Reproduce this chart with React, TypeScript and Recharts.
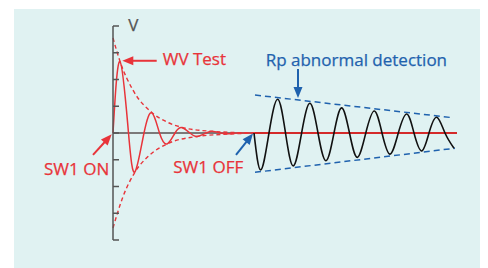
import { LineChart, Line, XAxis, YAxis, ReferenceLine, ReferenceDot } from "recharts";

const RED = "#e8343a";
const BLUE = "#1f62ae";
const GRAY = "#555555";

// x: time offset from SW1 ON, y: voltage in axis divisions
const redSignal = [
  { x: 0, y: 0 },
  { x: 7, y: 2.67 },
  { x: 15.5, y: 0 },
  { x: 22, y: -1.45 },
  { x: 31, y: 0 },
  { x: 39, y: 0.75 },
  { x: 46.5, y: 0 },
  { x: 54, y: -0.41 },
  { x: 62, y: 0 },
  { x: 69, y: 0.2 },
  { x: 77, y: 0 },
  { x: 84, y: -0.13 },
  { x: 93, y: 0 },
  { x: 100, y: 0.06 },
  { x: 108, y: 0 },
  { x: 116, y: -0.03 },
  { x: 124, y: 0 },
  { x: 142, y: 0 },
];

const redUpper = [
  { x: 0, y: 3.55 },
  { x: 7, y: 2.68 },
  { x: 20, y: 1.6 },
  { x: 39, y: 0.76 },
  { x: 54, y: 0.41 },
  { x: 69, y: 0.21 },
  { x: 100, y: 0.06 },
  { x: 142, y: 0 },
];

const redLower = [
  { x: 0, y: -3.55 },
  { x: 10, y: -2.38 },
  { x: 22, y: -1.46 },
  { x: 35, y: -0.88 },
  { x: 54, y: -0.41 },
  { x: 84, y: -0.13 },
  { x: 116, y: -0.04 },
  { x: 142, y: 0 },
];

const baseLeft = [
  { x: 0, y: 0 },
  { x: 142, y: 0 },
];

const baseRight = [
  { x: 142, y: 0 },
  { x: 344, y: 0 },
];

const blackSignal = [
  { x: 141, y: 0 },
  { x: 147.7, y: -1.38 },
  { x: 156, y: 0 },
  { x: 164.7, y: 1.26 },
  { x: 172.5, y: 0 },
  { x: 180.3, y: -1.23 },
  { x: 188.6, y: 0 },
  { x: 197, y: 1.11 },
  { x: 205, y: 0 },
  { x: 213, y: -1.04 },
  { x: 221, y: 0 },
  { x: 228.7, y: 0.94 },
  { x: 236.5, y: 0 },
  { x: 244.3, y: -0.91 },
  { x: 252.8, y: 0 },
  { x: 261.3, y: 0.82 },
  { x: 269, y: 0 },
  { x: 277, y: -0.79 },
  { x: 285.3, y: 0 },
  { x: 293.7, y: 0.71 },
  { x: 301, y: 0 },
  { x: 308.7, y: -0.67 },
  { x: 316, y: 0 },
  { x: 323.7, y: 0.59 },
  { x: 332, y: 0 },
  { x: 341, y: -0.57 },
];

const blueUpper = [
  { x: 142, y: 1.42 },
  { x: 340, y: 0.57 },
];

const blueLower = [
  { x: 142, y: -1.47 },
  { x: 342, y: -0.57 },
];

const yTicks = [-4, -3, -2, -1, 0, 1, 2, 3, 4];

const labels = [
  { text: "V", x: 15.3, y: 3.82, color: GRAY },
  { text: "WV Test", x: 49.7, y: 2.54, color: RED },
  { text: "SW1 ON", x: -69, y: -1.57, color: RED },
  { text: "SW1 OFF", x: 60.3, y: -1.51, color: RED },
  { text: "Rp abnormal detection", x: 152.7, y: 2.5, color: BLUE },
];

const arrows = [
  { from: { x: 43.7, y: 2.7 }, to: { x: 9.3, y: 2.7 }, color: RED },
  { from: { x: -20, y: -0.82 }, to: { x: -1.3, y: -0.05 }, color: RED },
  { from: { x: 123, y: -0.82 }, to: { x: 140, y: -0.02 }, color: BLUE },
  { from: { x: 185, y: 2.39 }, to: { x: 185, y: 1.31 }, color: BLUE },
];

function arrowShape(color: string) {
  return (p: any) => {
    const { x1, y1, x2, y2 } = p;
    const a = Math.atan2(y2 - y1, x2 - x1);
    const len = 11;
    const w = 4.5;
    const bx = x2 - len * Math.cos(a);
    const by = y2 - len * Math.sin(a);
    const pts = [
      [x2, y2],
      [bx + w * Math.sin(a), by - w * Math.cos(a)],
      [bx - w * Math.sin(a), by + w * Math.cos(a)],
    ]
      .map((q) => q.join(","))
      .join(" ");
    return (
      <g>
        <line x1={x1} y1={y1} x2={bx + Math.cos(a)} y2={by + Math.sin(a)} stroke={color} strokeWidth={2} />
        <polygon points={pts} fill={color} />
      </g>
    );
  };
}

function textShape(text: string, color: string) {
  return (p: any) => (
    <text
      x={p.cx}
      y={p.cy}
      fill={color}
      fontSize={17}
      fontFamily="'Open Sans', sans-serif"
      stroke={color}
      strokeWidth={0.25}
    >
      {text}
    </text>
  );
}

export default function App() {
  return (
    <div style={{ position: "relative", width: 480, height: 260 }}>
      <div
        style={{
          position: "absolute",
          left: 6,
          top: 1,
          width: 474,
          height: 259,
          background: "#e0f2f2",
        }}
      />
      <div style={{ position: "absolute", left: 0, top: 0 }}>
        <LineChart width={480} height={260} margin={{ top: 18, right: 31, bottom: 28, left: 105 }}>
          <XAxis type="number" dataKey="x" domain={[0, 344]} hide />
          <YAxis
            type="number"
            domain={[-4, 4]}
            ticks={yTicks}
            interval={0}
            mirror
            tick={() => <g />}
            tickSize={6}
            stroke={GRAY}
            axisLine={{ stroke: GRAY, strokeWidth: 1.5 }}
            tickLine={{ stroke: GRAY, strokeWidth: 1.5 }}
          />
          <Line data={baseLeft} dataKey="y" stroke="#5a5050" strokeWidth={1.5} dot={false} activeDot={false} isAnimationActive={false} />
          <Line data={redUpper} dataKey="y" type="monotone" stroke={RED} strokeWidth={1.4} strokeDasharray="4 3" dot={false} activeDot={false} isAnimationActive={false} />
          <Line data={redLower} dataKey="y" type="monotone" stroke={RED} strokeWidth={1.4} strokeDasharray="4 3" dot={false} activeDot={false} isAnimationActive={false} />
          <Line data={redSignal} dataKey="y" type="natural" stroke={RED} strokeWidth={1.5} dot={false} activeDot={false} isAnimationActive={false} />
          <Line data={baseRight} dataKey="y" stroke="#d42a2a" strokeWidth={2} dot={false} activeDot={false} isAnimationActive={false} />
          <Line data={blueUpper} dataKey="y" stroke={BLUE} strokeWidth={1.5} strokeDasharray="6 4" dot={false} activeDot={false} isAnimationActive={false} />
          <Line data={blueLower} dataKey="y" stroke={BLUE} strokeWidth={1.5} strokeDasharray="6 4" dot={false} activeDot={false} isAnimationActive={false} />
          <Line data={blackSignal} dataKey="y" type="natural" stroke="#111111" strokeWidth={1.6} dot={false} activeDot={false} isAnimationActive={false} />
          {arrows.map((a, i) => (
            <ReferenceLine key={"a" + i} segment={[a.from, a.to]} ifOverflow="visible" shape={arrowShape(a.color)} />
          ))}
          {labels.map((l) => (
            <ReferenceDot key={l.text} x={l.x} y={l.y} ifOverflow="visible" shape={textShape(l.text, l.color)} />
          ))}
        </LineChart>
      </div>
    </div>
  );
}
